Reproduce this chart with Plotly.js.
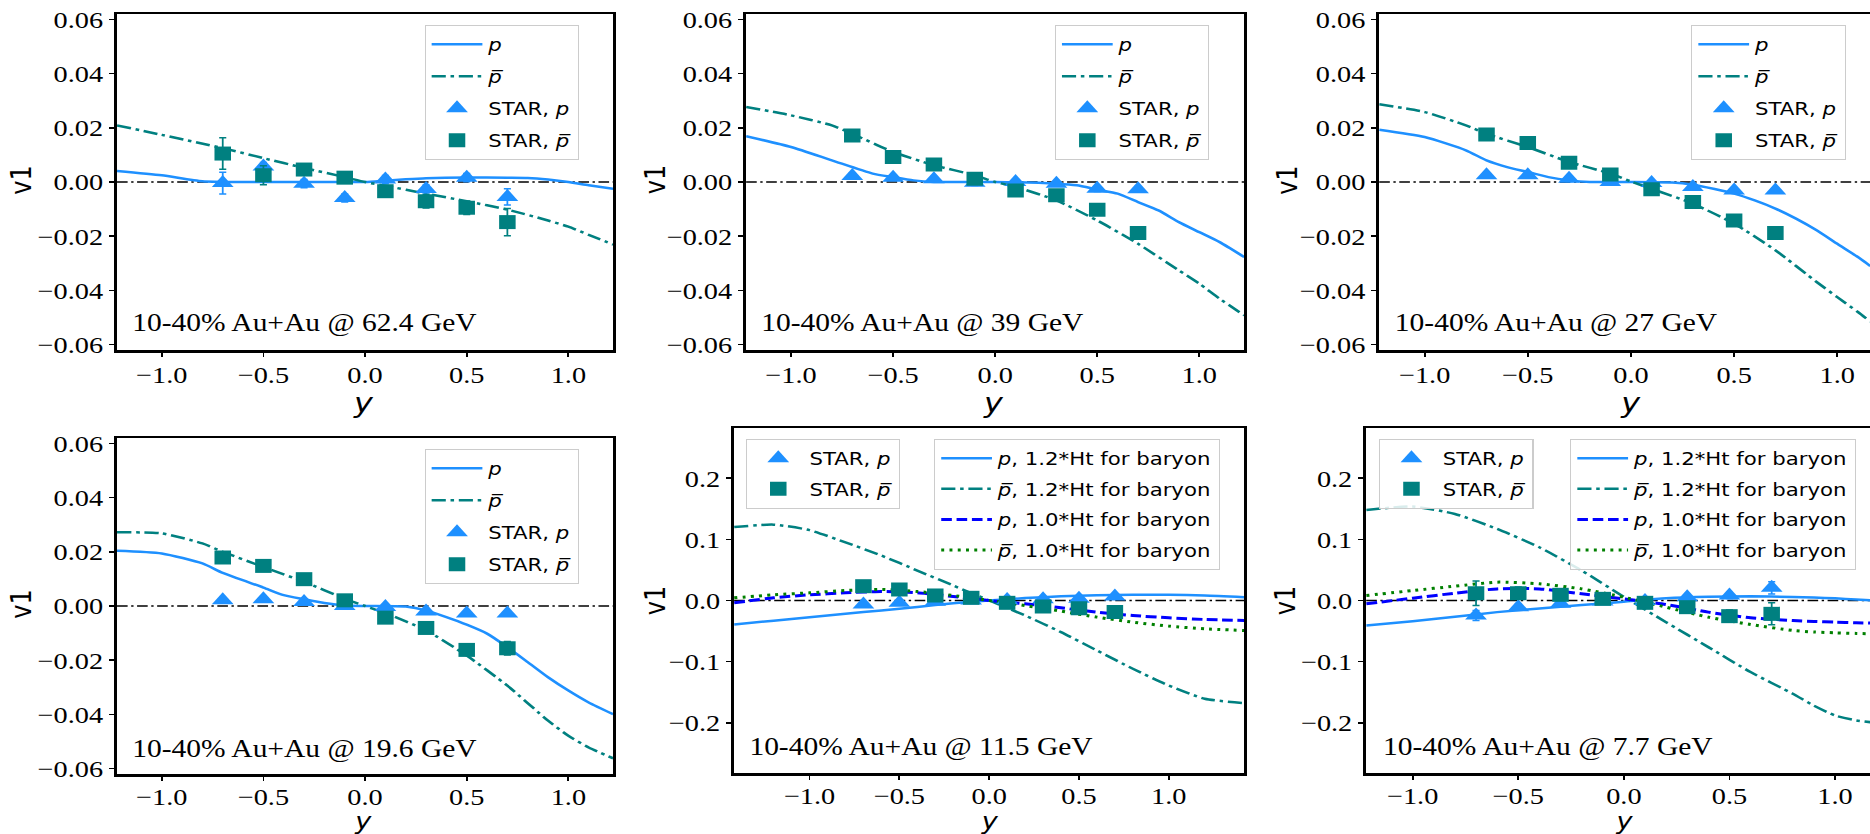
<!DOCTYPE html>
<html><head><meta charset="utf-8">
<script src="https://cdn.plot.ly/plotly-3.0.1.min.js"></script>
<style>
html,body{margin:0;padding:0;overflow:hidden;background:#fff;width:1870px;height:834px;}
#chart{width:1585px;height:834px;transform:scaleX(1.18);transform-origin:0 0;}
</style></head><body><div id="chart"></div><script>
// ---------- data ----------
const starX = [-0.7,-0.5,-0.3,-0.1,0.1,0.3,0.5,0.7];

// 62.4 GeV
const m62_pX = [-1.22,-1.0,-0.8,-0.6,-0.4,-0.2,0.0,0.1,0.2,0.3,0.5,0.7,0.8,0.9,1.0,1.1,1.22];
const m62_p  = [0.0041,0.0025,0.0003,0.0,0.0,0.0,0.0,0.0005,0.001,0.0014,0.0017,0.0016,0.0015,0.0009,0.0,-0.0012,-0.0025];
const m62_pbX = [-1.22,-1.0,-0.7,-0.5,-0.3,-0.1,0.0,0.1,0.3,0.5,0.7,0.9,1.0,1.1,1.22];
const m62_pb  = [0.0209,0.0174,0.0125,0.0088,0.0052,0.0018,0.0,-0.0014,-0.0043,-0.0071,-0.0102,-0.0142,-0.0165,-0.0195,-0.0231];
const s62_p = [-0.0004,0.0057,-0.0006,-0.0059,0.0009,-0.0026,0.0016,-0.0055];
const s62_pErr = [0.004,0.0015,0.0015,0.0015,0.0015,0.0015,0.0015,0.003];
const s62_pb = [0.0105,0.0025,0.0046,0.0016,-0.0034,-0.0071,-0.0095,-0.0148];
const s62_pbErr = [0.0058,0.0035,0.002,0.002,0.002,0.0025,0.0025,0.005];

// 39 GeV
const m39_pX = [-1.22,-1.0,-0.8,-0.6,-0.5,-0.4,-0.3,0.0,0.3,0.4,0.5,0.6,0.7,0.8,0.9,1.0,1.1,1.22];
const m39_p  = [0.0169,0.0129,0.008,0.0031,0.0018,0.0006,0.0,0.0,-0.0006,-0.0012,-0.0028,-0.0043,-0.0074,-0.0105,-0.0148,-0.0185,-0.0222,-0.0277];
const m39_pbX = [-1.22,-1.0,-0.8,-0.7,-0.5,-0.3,-0.1,0.0,0.1,0.3,0.5,0.7,0.9,1.0,1.1,1.22];
const m39_pb  = [0.0277,0.0246,0.0209,0.0178,0.0111,0.0062,0.0025,0.0,-0.0018,-0.0068,-0.0142,-0.0228,-0.0326,-0.0375,-0.0431,-0.0492];
const s39_p = [0.0022,0.0016,0.001,-0.0003,0.0,-0.0006,-0.0025,-0.0027];
const s39_pErr = [0.001,0.001,0.001,0.001,0.001,0.001,0.001,0.001];
const s39_pb = [0.0172,0.0092,0.0065,0.0012,-0.0031,-0.0049,-0.0102,-0.0188];
const s39_pbErr = [0.0015,0.0015,0.0015,0.0015,0.0015,0.0015,0.0015,0.0015];

// 27 GeV
const m27_pX = [-1.22,-1.0,-0.8,-0.7,-0.6,-0.5,-0.4,-0.3,-0.2,0.0,0.2,0.3,0.4,0.5,0.6,0.7,0.8,0.9,1.0,1.1,1.16];
const m27_p  = [0.0193,0.0166,0.0117,0.008,0.0055,0.0037,0.0018,0.0006,0.0,0.0,-0.0002,-0.001,-0.0025,-0.0043,-0.0068,-0.0098,-0.0135,-0.0178,-0.0228,-0.0277,-0.031];
const m27_pbX = [-1.22,-1.0,-0.8,-0.7,-0.5,-0.3,-0.1,0.0,0.1,0.3,0.5,0.7,0.9,1.0,1.1,1.16];
const m27_pb  = [0.0287,0.0258,0.0209,0.0178,0.0129,0.0074,0.0031,0.0002,-0.0025,-0.008,-0.0154,-0.0252,-0.0369,-0.0425,-0.048,-0.0515];
const s27_p = [0.0025,0.0025,0.0012,0.0,-0.0004,-0.0018,-0.0031,-0.0031];
const s27_pErr = [0.001,0.001,0.001,0.001,0.001,0.001,0.001,0.001];
const s27_pb = [0.0175,0.0144,0.0071,0.0028,-0.0027,-0.0074,-0.0142,-0.0188];
const s27_pbErr = [0.0015,0.0015,0.0015,0.0015,0.0015,0.0015,0.0015,0.0015];

// 19.6 GeV
const m196_pX = [-1.22,-1.0,-0.8,-0.7,-0.5,-0.4,-0.3,-0.2,-0.1,0.0,0.2,0.3,0.4,0.5,0.6,0.7,0.8,0.9,1.0,1.1,1.22];
const m196_p  = [0.0204,0.0194,0.0157,0.0122,0.0068,0.004,0.0025,0.0011,0.0002,0.0,-0.0002,-0.0016,-0.0041,-0.0069,-0.0102,-0.0152,-0.0207,-0.0263,-0.0312,-0.0356,-0.0399];
const m196_pbX = [-1.22,-1.0,-0.8,-0.7,-0.5,-0.3,-0.1,0.0,0.1,0.3,0.5,0.7,0.9,1.0,1.1,1.22];
const m196_pb  = [0.0272,0.0268,0.0231,0.02,0.0144,0.0089,0.0027,0.0,-0.0026,-0.009,-0.0183,-0.0294,-0.0423,-0.0479,-0.0522,-0.0562];
const s196_p = [0.0021,0.0025,0.0015,0.0,-0.0004,-0.002,-0.0028,-0.0028];
const s196_pErr = [0.001,0.001,0.001,0.001,0.001,0.001,0.001,0.001];
const s196_pb = [0.0179,0.0148,0.0099,0.0021,-0.0043,-0.0081,-0.0162,-0.0156];
const s196_pbErr = [0.0015,0.0015,0.0015,0.0015,0.0015,0.0015,0.0015,0.0025];

// 11.5 GeV
const m115_X = [-1.42,-1.2,-1.0,-0.8,-0.6,-0.4,-0.2,0.0,0.2,0.4,0.6,0.8,1.0,1.2,1.42];
const m115_p12  = [-0.0392,-0.033,-0.0272,-0.0215,-0.0163,-0.0105,-0.0045,0.0,0.004,0.0068,0.0085,0.0092,0.0093,0.0082,0.0054];
const m115_pb12 = [0.12,0.124,0.115,0.095,0.0735,0.049,0.0245,0.0,-0.0245,-0.0517,-0.0817,-0.1116,-0.139,-0.1606,-0.1677];
const m115_p10  = [-0.0038,0.0044,0.0093,0.0125,0.0147,0.0125,0.0065,0.0,-0.0054,-0.012,-0.019,-0.0245,-0.0283,-0.031,-0.0327];
const m115_pb10 = [0.0044,0.0093,0.0125,0.0163,0.018,0.0147,0.0082,0.0,-0.0082,-0.0174,-0.0272,-0.0354,-0.0419,-0.0463,-0.049];
const s115_p = [-0.0065,-0.0035,-0.002,0.0,0.001,0.002,0.003,0.0065];
const s115_pErr = [0.004,0.004,0.003,0.003,0.003,0.003,0.004,0.004];
const s115_pb = [0.0234,0.018,0.0082,0.0044,-0.0038,-0.0098,-0.0125,-0.019];
const s115_pbErr = [0.006,0.005,0.004,0.003,0.003,0.004,0.005,0.006];

// 7.7 GeV
const m77_X = [-1.22,-1.0,-0.8,-0.6,-0.4,-0.2,0.0,0.2,0.4,0.6,0.8,0.9,1.0,1.1,1.17];
const m77_p12  = [-0.0408,-0.0338,-0.0265,-0.019,-0.013,-0.0075,-0.002,0.0035,0.006,0.0068,0.0058,0.0048,0.0035,0.0015,0.0005];
const m77_pb12 = [0.148,0.1535,0.1415,0.117,0.087,0.049,0.006,-0.0354,-0.0762,-0.117,-0.1524,-0.172,-0.188,-0.196,-0.199];
const m77_p10  = [-0.0054,0.0038,0.012,0.019,0.019,0.0109,0.0027,-0.0065,-0.019,-0.0283,-0.0327,-0.0342,-0.0354,-0.0364,-0.037];
const m77_pb10 = [0.0082,0.0163,0.0234,0.03,0.0272,0.019,0.0054,-0.0109,-0.0272,-0.0392,-0.049,-0.0515,-0.0528,-0.0538,-0.0544];
const s77_p = [-0.0245,-0.0109,-0.0054,-0.0016,-0.001,0.0054,0.0082,0.0207];
const s77_pErr = [0.008,0.005,0.004,0.003,0.003,0.004,0.005,0.01];
const s77_pb = [0.012,0.012,0.0093,0.0027,-0.0038,-0.0109,-0.0256,-0.0218];
const s77_pbErr = [0.02,0.01,0.008,0.005,0.005,0.008,0.01,0.018];

const panelLabels = ['10-40% Au+Au @ 62.4 GeV','10-40% Au+Au @ 39 GeV','10-40% Au+Au @ 27 GeV',
                     '10-40% Au+Au @ 19.6 GeV','10-40% Au+Au @ 11.5 GeV','10-40% Au+Au @ 7.7 GeV'];
const xTicks = [-1.0,-0.5,0.0,0.5,1.0];
const yTicksSmall = [-0.06,-0.04,-0.02,0.0,0.02,0.04,0.06];
const yTicksLarge = [-0.2,-0.1,0.0,0.1,0.2];

// ---------- styles ----------
const BLUE = '#1E90FF', TEAL = '#008080', DBLUE = '#0000FF', GREEN = '#008000';
const DASHDOT = '12px,4px,3px,4px';
const PB = 'p\u0305';

const traces = [];
let gid = 0;
function line(x, y, ax, name, color, dash, leg, w) {
  traces.push({type:'scatter', mode:'lines', x:x, y:y, xaxis:'x'+ax, yaxis:'y'+ax, name:name,
    legend:leg, legendgroup:'g'+(gid++),
    line:{color:color, width:w||2.5, dash:dash, shape:'spline', smoothing:0.6}});
}
function pts(y, err, ax, name, color, symbol, leg, size) {
  traces.push({type:'scatter', mode:'markers', x:starX, y:y, xaxis:'x'+ax, yaxis:'y'+ax, name:name,
    legend:leg, legendgroup:'g'+(gid++),
    marker:{color:color, symbol:symbol, size:size},
    error_y:{type:'data', array:err, visible:true, color:color, thickness:1.5, width:3}});
}
function topPanel(ax, leg, mpX, mp, mpbX, mpb, sp, spe, spb, spbe) {
  line(mpX, mp, ax, '<i>p</i>', BLUE, 'solid', leg);
  line(mpbX, mpb, ax, '<i>'+PB+'</i>', TEAL, DASHDOT, leg);
  pts(sp, spe, ax, 'STAR, <i>p</i>', BLUE, 'triangle-up', leg, 16);
  pts(spb, spbe, ax, 'STAR, <i>'+PB+'</i>', TEAL, 'square', leg, 14);
}
topPanel('', 'legend', m62_pX, m62_p, m62_pbX, m62_pb, s62_p, s62_pErr, s62_pb, s62_pbErr);
topPanel('2', 'legend2', m39_pX, m39_p, m39_pbX, m39_pb, s39_p, s39_pErr, s39_pb, s39_pbErr);
topPanel('3', 'legend3', m27_pX, m27_p, m27_pbX, m27_pb, s27_p, s27_pErr, s27_pb, s27_pbErr);
topPanel('4', 'legend4', m196_pX, m196_p, m196_pbX, m196_pb, s196_p, s196_pErr, s196_pb, s196_pbErr);

function lowPanel(ax, legS, legM, X, p12, pb12, p10, pb10, sp, spe, spb, spbe) {
  line(X, p12, ax, '<i>p</i>, 1.2*Ht for baryon', BLUE, 'solid', legM);
  line(X, pb12, ax, '<i>'+PB+'</i>, 1.2*Ht for baryon', TEAL, DASHDOT, legM);
  line(X, p10, ax, '<i>p</i>, 1.0*Ht for baryon', DBLUE, '9px,4px', legM, 3);
  line(X, pb10, ax, '<i>'+PB+'</i>, 1.0*Ht for baryon', GREEN, '2.5px,4.5px', legM, 3);
  pts(sp, spe, ax, 'STAR, <i>p</i>', BLUE, 'triangle-up', legS, 16);
  pts(spb, spbe, ax, 'STAR, <i>'+PB+'</i>', TEAL, 'square', legS, 14);
}
lowPanel('5', 'legend5', 'legend6', m115_X, m115_p12, m115_pb12, m115_p10, m115_pb10, s115_p, s115_pErr, s115_pb, s115_pbErr);
lowPanel('6', 'legend7', 'legend8', m77_X, m77_p12, m77_pb12, m77_p10, m77_pb10, s77_p, s77_pErr, s77_pb, s77_pbErr);

// ---------- layout ----------
const FW = 1870, FH = 834;
const fx = v => v / FW, fy = v => 1 - v / FH;
const tickFont = {family:'Liberation Serif', size:24, color:'black'};
function axisBase(mirror) {
  return {showline:true, linecolor:'black', linewidth:2.5, mirror:mirror, ticks:'outside', ticklen:4.5,
    tickwidth:1.5, tickcolor:'black', showgrid:false, zeroline:false, tickfont:tickFont, fixedrange:true};
}
function xAx(l, r, range, anchor, standoff) {
  return Object.assign(axisBase(true), {domain:[fx(l), fx(r)], range:range, anchor:anchor,
    tickvals:xTicks, tickformat:'.1f', ticklabelstandoff:standoff});
}
function yAx(t, b, range, anchor, ticks, fmt, mirror) {
  return Object.assign(axisBase(mirror), {domain:[fy(b), fy(t)], range:range, anchor:anchor,
    tickvals:ticks, tickformat:fmt});
}
const RS = [-0.062, 0.062], RL = [-0.282, 0.282];
const layout = {
  width:1585, height:834, margin:{l:0,r:0,t:0,b:0}, paper_bgcolor:'white', plot_bgcolor:'white',
  showlegend:true,
  xaxis:  xAx(117, 613, [-1.22,1.22], 'y', -3),
  yaxis:  yAx(14, 350, RS, 'x', yTicksSmall, '.2f', true),
  xaxis2: xAx(746, 1244, [-1.22,1.22], 'y2', -3),
  yaxis2: yAx(14, 350, RS, 'x2', yTicksSmall, '.2f', true),
  xaxis3: xAx(1379, 1870, [-1.22,1.16], 'y3', -3),
  yaxis3: yAx(14, 350, RS, 'x3', yTicksSmall, '.2f', false),
  xaxis4: xAx(117, 613, [-1.22,1.22], 'y4', -5),
  yaxis4: yAx(438, 774, RS, 'x4', yTicksSmall, '.2f', true),
  xaxis5: xAx(734, 1244, [-1.42,1.42], 'y5', -5),
  yaxis5: yAx(428, 773, RL, 'x5', yTicksLarge, '.1f', true),
  xaxis6: xAx(1366, 1870, [-1.22,1.167], 'y6', -5),
  yaxis6: yAx(428, 773, RL, 'x6', yTicksLarge, '.1f', false),
  shapes:[], annotations:[]
};
function legendAt(xl, yt, gap) {
  return {x:fx(xl), y:fy(yt), xanchor:'left', yanchor:'top', bgcolor:'rgba(255,255,255,0.85)',
    bordercolor:'#cccccc', borderwidth:1, font:{family:'DejaVu Sans', size:18, color:'black'},
    itemwidth:43, tracegroupgap:gap, traceorder:'grouped'};
}
layout.legend  = legendAt(424.5, 25, 5.6);
layout.legend2 = legendAt(1054.7, 25, 5.6);
layout.legend3 = legendAt(1691, 25, 5.6);
layout.legend4 = legendAt(424.5, 449, 5.6);
layout.legend5 = legendAt(745.7, 439, 4.2);
layout.legend6 = legendAt(934, 439, 4.2);
layout.legend7 = legendAt(1378.8, 439, 4.2);
layout.legend8 = legendAt(1570, 439, 4.2);

const axIds = ['', '2', '3', '4', '5', '6'];
axIds.forEach(a => {
  layout.shapes.push({type:'line', xref:'x'+a+' domain', x0:0, x1:1, yref:'y'+a, y0:0, y1:0,
    layer:'below', line:{color:'black', width:1.3, dash:'9px,3px,2px,3px'}});
});
// panel labels
const labelPos = [[129.8,323],[758.8,323],[1391.8,323],[129.8,749],[747,747],[1380.8,747]];
labelPos.forEach((p, i) => {
  layout.annotations.push({text:panelLabels[i], xref:'paper', yref:'paper', x:fx(p[0]), y:fy(p[1]),
    xanchor:'left', yanchor:'middle', showarrow:false, font:{family:'Liberation Serif', size:25, color:'black'}});
});
// axis titles
const v1Pos = [[22,180],[655,180],[1287,180],[22,604],[655,601],[1285,601]];
v1Pos.forEach(p => {
  layout.annotations.push({text:'v1', xref:'paper', yref:'paper', x:fx(p[0]), y:fy(p[1]), textangle:-90,
    xanchor:'center', yanchor:'middle', showarrow:false, font:{family:'DejaVu Sans', size:24, color:'black'}});
});
const yPos = [[363,386,27],[993.5,386,27],[1631,386,27],[363,807,23],[989.4,807,23],[1623.7,807,23]];
yPos.forEach(p => {
  layout.annotations.push({text:'<i>y</i>', xref:'paper', yref:'paper', x:fx(p[0]), y:fy(p[1]),
    xanchor:'center', yanchor:'top', showarrow:false, borderpad:0,
    font:{family:'DejaVu Sans', size:p[2], color:'black'}});
});

Plotly.newPlot('chart', traces, layout, {displayModeBar:false, staticPlot:true});
</script></body></html>
